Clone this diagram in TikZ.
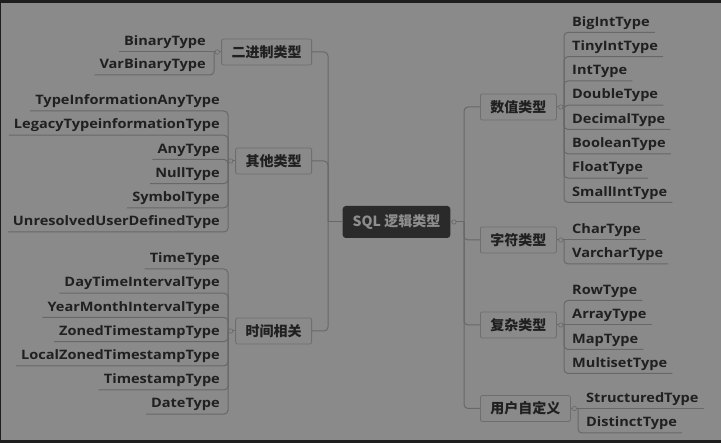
\documentclass[tikz,border=0pt]{standalone}
\usepackage{fontspec}
\setmainfont{Open Sans}[FakeStretch=1.12]
\newfontfamily\cjk{Noto Sans CJK SC}
\definecolor{bg}{HTML}{8A8A8A}
\definecolor{frame}{HTML}{1E1E1E}
\definecolor{ink}{HTML}{202020}
\definecolor{wirec}{HTML}{686868}
\definecolor{boxline}{HTML}{6E6E6E}
\definecolor{rootfill}{HTML}{2A2A2A}
\definecolor{roottext}{HTML}{8E8E8E}
\tikzset{
  cat/.style={draw=boxline, fill=bg, rounded corners=2pt, minimum height=26pt,
    inner xsep=10pt, inner ysep=0pt, line width=0.8pt,
    font=\cjk\bfseries\fontsize{14}{14}\selectfont, text=ink},
  root/.style={fill=rootfill, rounded corners=3pt, minimum height=32pt,
    inner xsep=10pt, inner ysep=0pt,
    font=\cjk\bfseries\fontsize{14}{14}\selectfont, text=roottext},
  leaf/.style={inner xsep=5pt, inner ysep=3pt, text height=9.5pt, text depth=3pt,
    font=\bfseries\fontsize{13}{13}\selectfont, text=ink},
  wire/.style={draw=wirec, line width=1pt, rounded corners=4pt},
  knob/.style={draw=wirec, fill=bg, line width=0.6pt}
}
\begin{document}
\begin{tikzpicture}[x=1pt,y=-1pt]
\useasboundingbox (0,0) rectangle (721,443);
\fill[frame] (0,0) rectangle (721,443);
\fill[bg] (1,3) rectangle (721,440);

% root
\node[root] (root) at (396.5,222) {SQL 逻辑类型};
\coordinate (lsp) at (328,222);
\coordinate (rsp) at (464,222);
\draw[wire] (root.west) -- (lsp);
\draw[wire] (root.east) -- (rsp);

% left categories
\node[cat, anchor=east] (bin) at (312,52) {二进制类型};
\node[cat, anchor=east] (oth) at (312,161) {其他类型};
\node[cat, anchor=east] (tim) at (312,331) {时间相关};
% right categories
\node[cat, anchor=west] (num) at (480,107) {数值类型};
\node[cat, anchor=west] (chr) at (480,240) {字符类型};
\node[cat, anchor=west] (cpx) at (480,325) {复杂类型};
\node[cat, anchor=west] (usr) at (480,408.5) {用户自定义};

\foreach \c in {bin,oth,tim} \draw[wire] (lsp) |- (\c.east);
\foreach \c in {num,chr,cpx,usr} \draw[wire] (rsp) |- (\c.west);

% junction coordinates
\coordinate (binj) at (214,52);
\coordinate (othj) at (228,161);
\coordinate (timj) at (228,331);
\coordinate (numj) at (564,107);
\coordinate (chrj) at (564,240);
\coordinate (cpxj) at (564,325);
\coordinate (usrj) at (578,408.5);
\foreach \c/\j in {bin/binj,oth/othj,tim/timj} \draw[wire] (\c.west) -- (\j);
\foreach \c/\j in {num/numj,chr/chrj,cpx/cpxj,usr/usrj} \draw[wire] (\c.east) -- (\j);

% binary leaves
\node[leaf, anchor=south east] (b1) at (211,52) {BinaryType};
\node[leaf, anchor=south east] (b2) at (211,75) {VarBinaryType};
\draw[wire] (binj) -- (b1.south west);
\draw[wire] (binj) |- (b2.south west);

% other leaves
\foreach \n/\t/\y in {o1/TypeInformationAnyType/111, o2/LegacyTypeinformationType/135.2,
  o3/AnyType/159.4, o4/NullType/183.6, o5/SymbolType/207.8, o6/UnresolvedUserDefinedType/232}{
  \node[leaf, anchor=south east] (\n) at (225,\y) {\t};
  \draw[wire] (othj) |- (\n.south west);
}
% time leaves
\foreach \n/\t/\y in {t1/TimeType/269, t2/DayTimeIntervalType/293.2, t3/YearMonthIntervalType/317.4,
  t4/ZonedTimestampType/341.6, t5/LocalZonedTimestampType/365.8, t6/TimestampType/390, t7/DateType/414.2}{
  \node[leaf, anchor=south east] (\n) at (225,\y) {\t};
  \draw[wire] (timj) |- (\n.south west);
}
% numeric leaves
\foreach \n/\t/\y in {n1/BigIntType/32.3, n2/TinyIntType/56.6, n3/IntType/80.9, n4/DoubleType/105.2,
  n5/DecimalType/129.5, n6/BooleanType/153.8, n7/FloatType/178.1, n8/SmallIntType/202.4}{
  \node[leaf, anchor=south west] (\n) at (567,\y) {\t};
  \draw[wire] (numj) |- (\n.south east);
}
% char leaves
\node[leaf, anchor=south west] (c1) at (567,240) {CharType};
\node[leaf, anchor=south west] (c2) at (567,264) {VarcharType};
\draw[wire] (chrj) -- (c1.south east);
\draw[wire] (chrj) |- (c2.south east);
% complex leaves
\foreach \n/\t/\y in {x1/RowType/300.5, x3/MapType/349.5, x4/MultisetType/373.5}{
  \node[leaf, anchor=south west] (\n) at (567,\y) {\t};
  \draw[wire] (cpxj) |- (\n.south east);
}
\node[leaf, anchor=south west] (x2) at (567,325) {ArrayType};
\draw[wire] (cpxj) -- (x2.south east);
% user leaves
\node[leaf, anchor=south west] (u1) at (581,408.5) {StructuredType};
\node[leaf, anchor=south west] (u2) at (581,433) {DistinctType};
\draw[wire] (usrj) -- (u1.south east);
\draw[wire] (usrj) |- (u2.south east);

% knobs
\draw[knob] ([xshift=3.5pt]root.east) circle (2.2pt);
\draw[knob] ([xshift=-4pt]bin.west) circle (2.2pt);
\draw[knob] ([xshift=-4.5pt]oth.west) circle (2.2pt);
\draw[knob] ([xshift=-4.5pt]tim.west) circle (2.2pt);
\draw[knob] ([xshift=4pt]num.east) circle (2.2pt);
\draw[knob] ([xshift=4pt]chr.east) circle (2.2pt);
\draw[knob] ([xshift=4pt]cpx.east) circle (2.2pt);
\draw[knob] ([xshift=3.5pt]usr.east) circle (2.2pt);
\end{tikzpicture}
\end{document}
